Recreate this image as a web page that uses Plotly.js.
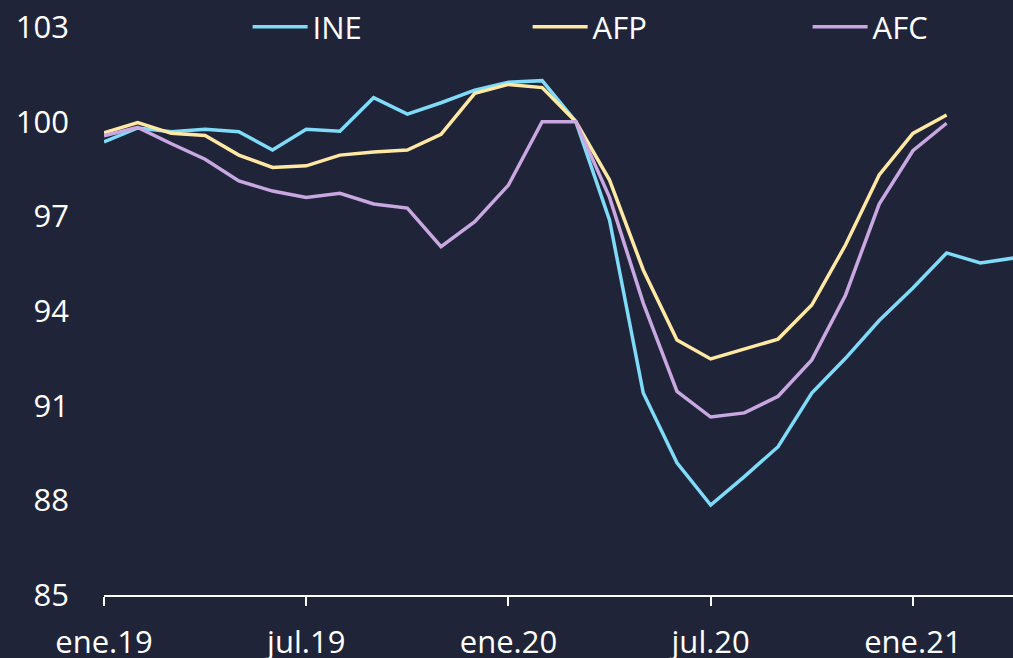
<!DOCTYPE html>
<html>
<head>
<meta charset="utf-8">
<script src="https://cdn.plot.ly/plotly-3.0.1.min.js"></script>
<style>
  html, body { margin: 0; padding: 0; background: #1f2439; }
  #chart { width: 1013px; height: 658px; }
</style>
</head>
<body>
<div id="chart"></div>
<script>
// Months (ene.19 .. abr.21)
const months = [
  "ene.19", "feb.19", "mar.19", "abr.19", "may.19", "jun.19",
  "jul.19", "ago.19", "sep.19", "oct.19", "nov.19", "dic.19",
  "ene.20", "feb.20", "mar.20", "abr.20", "may.20", "jun.20",
  "jul.20", "ago.20", "sep.20", "oct.20", "nov.20", "dic.20",
  "ene.21", "feb.21", "mar.21", "abr.21"
];

// Index values
const ine = [
  99.36, 99.80, 99.68, 99.76, 99.68, 99.10, 99.76, 99.70, 100.76, 100.24,
  100.60, 101.00, 101.25, 101.30, 100.00, 96.88, 91.40, 89.19, 87.85, 88.75,
  89.70, 91.40, 92.50, 93.70, 94.73, 95.84, 95.52, 95.68
];
const afp = [
  99.65, 99.97, 99.63, 99.56, 98.94, 98.55, 98.60, 98.94, 99.04, 99.10,
  99.60, 100.90, 101.18, 101.08, 100.00, 98.15, 95.30, 93.08, 92.48, 92.80,
  93.11, 94.19, 96.09, 98.31, 99.63, 100.21
];
const afc = [
  99.55, 99.82, 99.30, 98.81, 98.12, 97.80, 97.60, 97.73, 97.39, 97.26,
  96.04, 96.83, 97.99, 100.00, 100.00, 97.60, 94.25, 91.45, 90.64, 90.77,
  91.30, 92.45, 94.50, 97.39, 99.08, 99.95
];

const tickLabels = ["ene.19", "jul.19", "ene.20", "jul.20", "ene.21"];
const yTicks = [85, 88, 91, 94, 97, 100, 103];

const fontFamily = "'Open Sans', 'Liberation Sans', sans-serif";

function makeTrace(values, name, color) {
  return {
    x: months.slice(0, values.length),
    y: values,
    name: name,
    type: "scatter",
    mode: "lines",
    line: { color: color, width: 3.5 },
    hoverinfo: "skip",
  };
}

const traces = [
  makeTrace(ine, "INE", "#7fdbf7"),
  makeTrace(afp, "AFP", "#ffe8a3"),
  makeTrace(afc, "AFC", "#c9a8e2"),
];

const layout = {
  width: 1013,
  height: 658,
  paper_bgcolor: "#1f2439",
  plot_bgcolor: "#1f2439",
  margin: { l: 104, r: 0, t: 27, b: 63, autoexpand: false },
  font: { family: fontFamily, color: "#ffffff", size: 31 },
  showlegend: true,
  legend: {
    orientation: "h",
    x: 0.158,
    xanchor: "left",
    y: 1.0,
    yanchor: "middle",
    entrywidth: 210,
    entrywidthmode: "pixels",
    itemwidth: 55,
    font: { size: 31, color: "#ffffff" },
    bgcolor: "rgba(0,0,0,0)",
  },
  xaxis: {
    type: "category",
    categoryarray: months,
    range: [0, 26.97],
    tickvals: tickLabels,
    ticktext: tickLabels,
    showgrid: false,
    zeroline: false,
    showline: true,
    linecolor: "#ffffff",
    linewidth: 2,
    ticks: "outside",
    ticklen: 9,
    tickwidth: 2,
    tickcolor: "#ffffff",
    ticklabelstandoff: 10,
    tickfont: { size: 31, color: "#ffffff" },
  },
  yaxis: {
    range: [85, 103],
    tickvals: yTicks,
    showgrid: false,
    zeroline: false,
    showline: false,
    ticks: "",
    ticklabelstandoff: 34,
    tickfont: { size: 31, color: "#ffffff" },
  },
};

Plotly.newPlot("chart", traces, layout, { displayModeBar: false, staticPlot: true });
</script>
</body>
</html>
